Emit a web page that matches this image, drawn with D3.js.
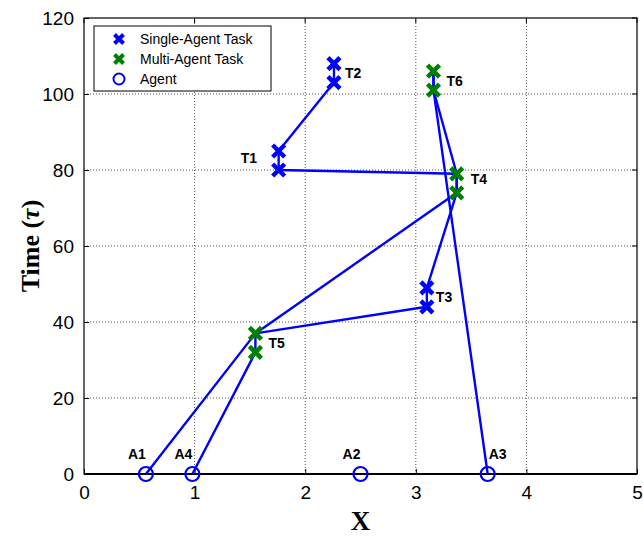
<!DOCTYPE html>
<html>
<head>
<meta charset="utf-8">
<script src="https://cdn.jsdelivr.net/npm/d3@7"></script>
<style>
  html, body { margin: 0; padding: 0; background: #fff; }
  svg { display: block; }
</style>
</head>
<body>
<svg id="chart" width="643" height="537"></svg>
<script>
// Axis ticks
const xTicks = [0, 1, 2, 3, 4, 5];
const yTicks = [0, 20, 40, 60, 80, 100, 120];

// Agents on the ground line (x position, label)
const agentNames = ["A1", "A2", "A3", "A4"];
const agentX = [0.56, 2.5, 3.65, 0.98];

// Tasks: location and the two time stamps marked for each
const taskNames = ["T1", "T2", "T3", "T4", "T5", "T6"];
const taskX = [1.76, 2.26, 3.10, 3.37, 1.55, 3.16];
const taskT0 = [80, 103, 44, 74, 32, 101];
const taskT1 = [85, 108, 49, 79, 37, 106];
const taskKind = ["single", "single", "single", "multi", "multi", "multi"];

// Agent routes through (x, time) points
const routeA1 = [[0.56, 0], [1.55, 37], [3.37, 74], [3.37, 79], [3.16, 101], [3.16, 106]];
const routeA4 = [[0.98, 0], [1.55, 32], [1.55, 37], [3.10, 44], [3.10, 49], [3.37, 74], [3.37, 79],
                 [1.76, 80], [1.76, 85], [2.26, 103], [2.26, 108]];
const routeA3 = [[3.65, 0], [3.16, 101], [3.16, 106]];
const routes = [routeA1, routeA4, routeA3];

const svg = d3.select("#chart");
const margin = { left: 84, right: 6, top: 18, bottom: 63 };
const W = 643, H = 537;
const x = d3.scaleLinear().domain([0, 5]).range([margin.left, W - margin.right]);
const y = d3.scaleLinear().domain([0, 120]).range([H - margin.bottom, margin.top]);

const BLUE = "#0000ff", GREEN = "#008000";

// Grid lines
const grid = svg.append("g");
grid.selectAll("line.gx").data(xTicks.slice(1, -1)).join("line")
  .attr("x1", d => x(d)).attr("x2", d => x(d))
  .attr("y1", y(0)).attr("y2", y(120))
  .attr("stroke", "#555").attr("stroke-width", 1).attr("stroke-dasharray", "1,2");
grid.selectAll("line.gy").data(yTicks.slice(1, -1)).join("line")
  .attr("y1", d => y(d)).attr("y2", d => y(d))
  .attr("x1", x(0)).attr("x2", x(5))
  .attr("stroke", "#555").attr("stroke-width", 1).attr("stroke-dasharray", "1,2");

// Axes
const xAxis = d3.axisBottom(x).tickValues(xTicks).tickSize(-5).tickPadding(12).tickFormat(d3.format("d"));
const yAxis = d3.axisLeft(y).tickValues(yTicks).tickSize(-5).tickPadding(10).tickFormat(d3.format("d"));
const gx = svg.append("g").attr("transform", `translate(0,${y(0)})`).call(xAxis);
const gy = svg.append("g").attr("transform", `translate(${x(0)},0)`).call(yAxis);
[gx, gy].forEach(g => {
  g.select(".domain").remove();
  g.selectAll("text").attr("font-family", "Liberation Sans, Arial, sans-serif")
    .attr("font-size", 19).attr("fill", "#000");
  g.selectAll(".tick line").attr("stroke", "#000");
});
gx.selectAll("text").attr("dy", "0.71em");

// Top & right axes tick marks
svg.append("g").selectAll("line").data(xTicks).join("line")
  .attr("x1", d => x(d)).attr("x2", d => x(d)).attr("y1", y(120)).attr("y2", y(120) + 5).attr("stroke", "#000");
svg.append("g").selectAll("line").data(yTicks).join("line")
  .attr("y1", d => y(d)).attr("y2", d => y(d)).attr("x1", x(5)).attr("x2", x(5) - 5).attr("stroke", "#000");

// Frame
svg.append("rect").attr("x", x(0)).attr("y", y(120))
  .attr("width", x(5) - x(0)).attr("height", y(0) - y(120))
  .attr("fill", "none").attr("stroke", "#000").attr("stroke-width", 1.2);
svg.append("line").attr("x1", x(0)).attr("x2", x(5)).attr("y1", y(0)).attr("y2", y(0))
  .attr("stroke", "#000").attr("stroke-width", 2);

// Routes
const line = d3.line().x(d => x(d[0])).y(d => y(d[1]));
svg.append("g").selectAll("path").data(routes).join("path")
  .attr("d", line).attr("fill", "none").attr("stroke", BLUE)
  .attr("stroke-width", 2.4).attr("stroke-linejoin", "round");

// Cross marker
function cross(g, cx, cy, color, s, w) {
  g.append("path")
    .attr("d", `M${cx - s},${cy - s}L${cx + s},${cy + s}M${cx - s},${cy + s}L${cx + s},${cy - s}`)
    .attr("stroke", color).attr("stroke-width", w).attr("fill", "none");
}

// Task markers
const marks = svg.append("g");
taskNames.forEach((n, i) => {
  const c = taskKind[i] === "single" ? BLUE : GREEN;
  cross(marks, x(taskX[i]), y(taskT0[i]), c, 6, 4.5);
  cross(marks, x(taskX[i]), y(taskT1[i]), c, 6, 4.5);
});

// Task labels
const taskLabelDx = [-38, 11, 9, 14, 13, 13];
const taskLabelDy = [-3, 0, 0, -4, 0, 0];
svg.append("g").selectAll("text").data(taskNames).join("text")
  .attr("x", (d, i) => x(taskX[i]) + taskLabelDx[i])
  .attr("y", (d, i) => y((taskT0[i] + taskT1[i]) / 2) + 5 + taskLabelDy[i])
  .attr("font-family", "Liberation Sans, Arial, sans-serif").attr("font-weight", "bold")
  .attr("font-size", 14).attr("fill", "#000").text(d => d);

// Agents
svg.append("g").selectAll("circle").data(agentX).join("circle")
  .attr("cx", d => x(d)).attr("cy", y(0)).attr("r", 7)
  .attr("fill", "none").attr("stroke", BLUE).attr("stroke-width", 2.2);
svg.append("g").selectAll("text").data(agentNames).join("text")
  .attr("x", (d, i) => x(agentX[i]) + (d === "A3" ? 10 : -9))
  .attr("y", y(0) - 15)
  .attr("text-anchor", "middle")
  .attr("font-family", "Liberation Sans, Arial, sans-serif").attr("font-weight", "bold")
  .attr("font-size", 14).attr("fill", "#000").text(d => d);

// Axis titles
svg.append("text").attr("x", (x(0) + x(5)) / 2).attr("y", 530)
  .attr("text-anchor", "middle").attr("font-family", "Liberation Serif, Times New Roman, serif")
  .attr("font-weight", "bold").attr("font-size", 27).text("X");
const yt = svg.append("text").attr("transform", `translate(39,${(y(0) + y(120)) / 2}) rotate(-90)`)
  .attr("text-anchor", "middle").attr("font-family", "Liberation Serif, Times New Roman, serif")
  .attr("font-weight", "bold").attr("font-size", 26);
yt.append("tspan").text("Time (");
yt.append("tspan").attr("font-style", "italic").text("τ");
yt.append("tspan").text(")");

// Legend
const lg = svg.append("g");
lg.append("rect").attr("x", 94).attr("y", 26).attr("width", 177).attr("height", 65)
  .attr("fill", "#fff").attr("stroke", "#000").attr("stroke-width", 1);
const legendItems = ["Single-Agent Task", "Multi-Agent Task", "Agent"];
legendItems.forEach((t, i) => {
  const cy = 39 + i * 20;
  if (i === 0) cross(lg, 119, cy, BLUE, 4.5, 4);
  if (i === 1) cross(lg, 119, cy, GREEN, 4.5, 4);
  if (i === 2) lg.append("circle").attr("cx", 119).attr("cy", cy).attr("r", 5.5)
    .attr("fill", "none").attr("stroke", BLUE).attr("stroke-width", 2);
  lg.append("text").attr("x", 140).attr("y", cy + 5)
    .attr("font-family", "Liberation Sans, Arial, sans-serif").attr("font-size", 14)
    .attr("fill", "#000").text(t);
});
</script>
</body>
</html>
